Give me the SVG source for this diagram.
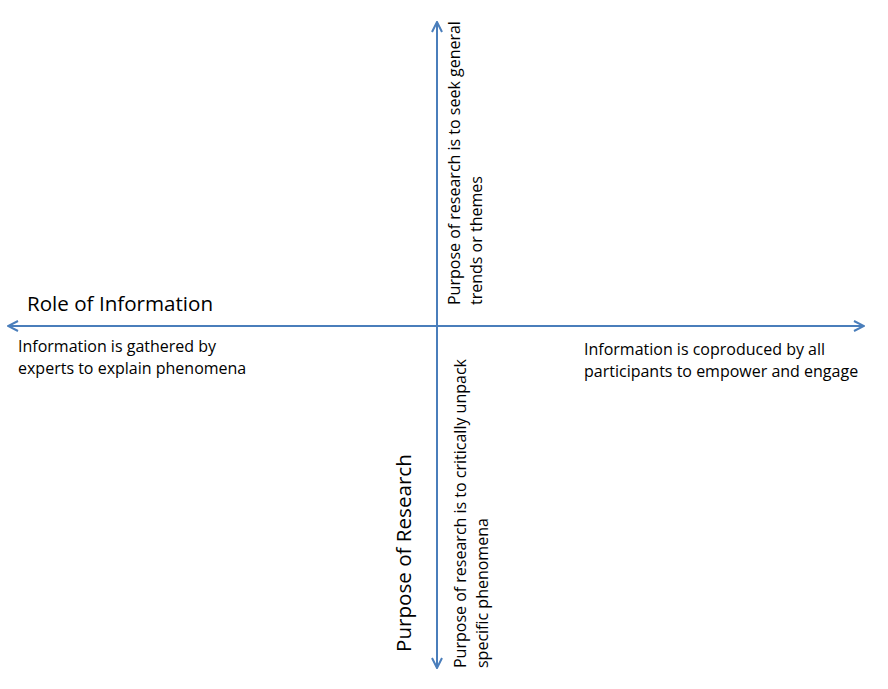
<svg xmlns="http://www.w3.org/2000/svg" width="888" height="689" viewBox="0 0 888 689">
<style>
.ax{stroke:#4a7ebb;stroke-width:2;fill:none}
.t{font-family:"Open Sans",Lato,"Liberation Sans",sans-serif;font-size:16px;fill:#000}
.big{font-family:"Open Sans",Lato,"Liberation Sans",sans-serif;font-size:20.6px;fill:#000}
</style>
<defs>
<marker id="ah" viewBox="0 0 12 12" refX="11" refY="6" markerWidth="12" markerHeight="12" markerUnits="userSpaceOnUse" orient="auto">
<path d="M1,1 L11,6 L1,11" fill="none" stroke="#4a7ebb" stroke-width="2"/>
</marker>
</defs>
<rect width="888" height="689" fill="#fff"/>
<g id="connectors">
<line class="ax" x1="437" y1="326" x2="8" y2="326" marker-end="url(#ah)"/>
<line class="ax" x1="437" y1="326" x2="864" y2="326" marker-end="url(#ah)"/>
<line class="ax" x1="437" y1="326" x2="437" y2="22" marker-end="url(#ah)"/>
<line class="ax" x1="437" y1="326" x2="437" y2="668" marker-end="url(#ah)"/>
</g>
<g id="role-of-information"><text class="big" x="27" y="311">Role of Information</text></g>
<g id="left-label"><text class="t" x="18" y="352">Information is gathered by</text><text class="t" x="18" y="374">experts to explain phenomena</text></g>
<g id="right-label"><text class="t" x="584" y="355">Information is coproduced by all</text><text class="t" x="584" y="377">participants to empower and engage</text></g>
<g id="top-label" transform="translate(460,305) rotate(-90)"><text class="t" x="0" y="0">Purpose of research is to seek general</text><text class="t" x="0" y="22">trends or themes</text></g>
<g id="purpose-of-research" transform="translate(411,652) rotate(-90)"><text class="big" x="0" y="0">Purpose of Research</text></g>
<g id="bottom-label" transform="translate(466,668) rotate(-90)"><text class="t" x="0" y="0">Purpose of research is to critically unpack</text><text class="t" x="0" y="22">specific phenomena</text></g>
</svg>
